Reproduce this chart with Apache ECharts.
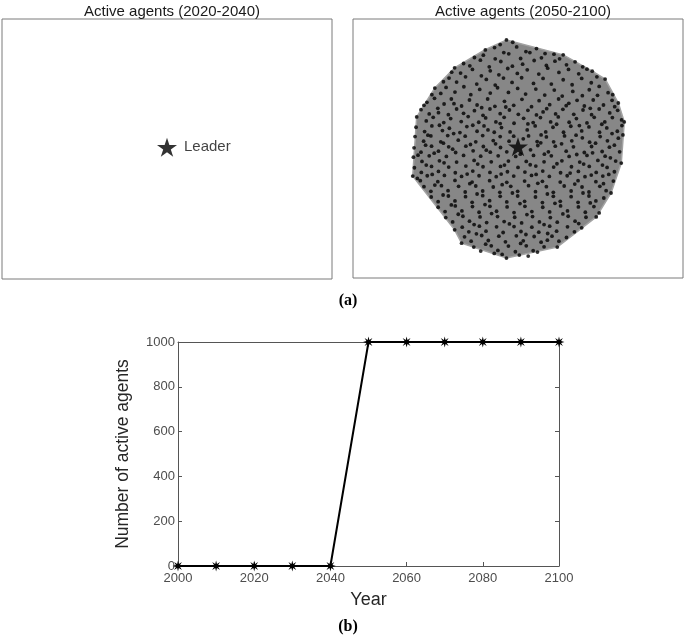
<!DOCTYPE html>
<html>
<head>
<meta charset="utf-8">
<script src="https://cdn.jsdelivr.net/npm/echarts@6/dist/echarts.min.js"></script>
<style>
  html, body { margin: 0; padding: 0; background: #fff; }
  #chart { width: 685px; height: 635px; }
</style>
</head>
<body>
<div id="chart"></div>
<script>
// leader position (field units, x 0-100, y 0-78)
const leader = [50, 39.5]

// outer agents that form the hull of the communication area
const hull = [
  [46.5,71.7],[63.7,67.2],[72.5,62.3],[76.4,59.9],[80.4,52.7],[82.2,47.0],[81.3,34.6],
  [78.2,25.6],[73.7,18.4],[61.9,9.3],[46.5,6.0],[32.9,10.5],[30.8,14.5],[18.1,30.7],
  [19.3,48.5],[24.8,57.2],[30.8,63.3],[39.9,68.7]
]

// active agents 2050-2100 (estimated positions)
const agents = [
  [46.5,71.7],[44.6,70.3],[48.4,71.0],
  [40.1,68.7],[42.9,69.4],[45.7,67.9],[49.6,69.6],[52.4,68.2],[55.6,69.1],[58.2,67.6],
  [36.8,66.4],[39.5,67.1],[43.1,66.0],[47.2,67.5],[50.8,66.1],[53.6,67.9],[57.1,66.3],[60.9,67.4],[63.7,67.2],
  [33.5,64.6],[35.4,63.9],[38.6,65.6],[41.3,63.6],[44.8,65.2],[48.3,63.8],[51.4,64.4],[54.9,65.5],[58.6,64.0],[61.2,65.3],[64.7,64.2],[67.3,65.1],
  [30.8,63.3],[32.6,61.7],[36.2,62.8],[38.9,60.9],[41.6,62.4],[44.2,61.2],[46.9,63.1],[49.8,61.6],[52.8,62.7],[56.3,61.4],[59.0,63.2],[62.4,61.9],[65.3,62.8],[68.4,61.5],[70.9,62.9],[72.5,62.3],
  [29.1,60.2],[31.4,59.0],[34.1,60.6],[37.5,58.4],[40.4,59.8],[43.1,58.1],[45.6,60.2],[48.2,58.9],[51.1,60.3],[54.7,58.6],[57.6,60.1],[60.1,58.4],[63.7,59.7],[66.4,58.2],[69.3,60.1],[72.2,58.8],[74.6,57.7],[76.4,59.9],
  [24.8,57.2],[26.6,55.6],[28.2,57.4],[30.9,56.0],[33.6,57.6],[35.7,55.2],[38.4,56.8],[41.6,55.7],[43.8,57.3],[47.1,55.9],[49.9,57.1],[52.3,55.4],[55.4,56.9],[58.1,55.1],[61.0,56.6],[63.4,54.8],[66.6,56.2],[69.5,54.9],[71.6,56.7],[74.1,55.0],[77.3,55.8],
  [22.4,52.9],[24.7,54.1],[27.6,52.4],[29.8,53.9],[32.9,51.8],[35.3,53.6],[37.6,52.1],[40.8,53.9],[43.0,51.7],[45.9,53.2],[48.7,52.0],[51.2,53.8],[54.1,51.6],[56.4,53.4],[59.6,52.2],[62.3,53.9],[64.6,51.9],[67.9,53.5],[70.1,51.8],[72.8,53.6],[75.9,52.1],[78.5,53.5],[80.4,52.7],
  [20.6,50.7],[23.1,49.4],[25.7,51.1],[28.9,49.2],[31.4,50.9],[33.5,49.6],[36.8,50.4],[39.4,49.0],[41.5,50.9],[44.6,49.5],[47.4,50.6],[50.1,49.3],[53.0,50.5],[55.6,49.1],[58.7,51.0],[61.4,49.4],[63.6,50.8],[66.9,49.3],[69.7,50.6],[72.3,49.2],[74.6,50.9],[77.8,49.7],[80.2,50.5],
  [19.3,48.5],[22.2,47.3],[24.3,48.4],[27.5,46.8],[29.6,48.0],[32.8,47.1],[34.9,48.6],[38.1,46.9],[40.2,48.2],[43.3,47.0],[45.8,48.4],[48.8,46.6],[51.7,48.1],[54.6,46.8],[56.8,48.3],[59.9,47.0],[62.2,48.5],[65.5,46.9],[67.7,48.0],[70.9,46.7],[73.1,48.4],[76.3,47.0],[78.6,48.3],[81.4,47.6],[82.2,47.0],
  [19.1,45.4],[21.7,44.1],[23.9,45.8],[27.1,44.4],[29.2,45.1],[32.4,43.8],[34.5,45.6],[37.6,44.2],[39.7,45.8],[42.8,43.9],[45.0,45.3],[47.6,44.0],[52.8,44.6],[55.2,45.8],[58.4,44.0],[60.6,45.4],[63.8,43.9],[66.0,45.7],[69.3,44.3],[71.5,45.5],[74.7,43.9],[76.9,45.2],[80.1,44.2],[81.5,45.9],
  [18.8,42.6],[21.4,41.2],[23.6,42.8],[26.6,41.0],[28.7,42.9],[31.9,41.5],[34.0,42.7],[37.2,41.0],[39.3,42.9],[42.5,41.4],[44.6,42.6],[47.3,41.2],[48.7,42.7],[51.6,41.9],[53.2,42.8],[55.8,41.1],[58.6,42.5],[60.8,41.0],[64.1,42.8],[66.3,41.3],[69.5,42.2],[71.7,40.9],[74.9,42.6],[77.1,41.3],[80.4,42.1],[81.8,43.1],
  [18.5,39.2],[20.6,37.9],[23.8,39.7],[25.9,38.2],[29.0,39.5],[31.1,37.8],[34.2,39.7],[36.4,38.3],[39.5,39.6],[41.6,37.9],[44.7,39.3],[46.6,38.0],[53.8,38.6],[56.0,39.9],[59.2,38.0],[61.3,39.7],[64.6,38.2],[66.8,39.5],[70.1,37.8],[72.3,39.6],[75.5,38.1],[77.7,39.4],[80.8,38.0],
  [18.3,36.4],[20.9,35.1],[23.1,36.8],[26.2,35.3],[28.3,36.6],[31.4,34.9],[33.5,36.9],[36.7,35.4],[38.7,36.7],[41.9,35.0],[44.0,36.8],[47.1,35.2],[49.3,36.6],[50.7,37.3],[52.5,35.1],[54.7,36.9],[57.9,35.0],[60.1,36.8],[63.3,35.3],[65.5,36.6],[68.7,34.9],[70.9,36.9],[74.2,35.4],[76.4,36.7],[79.6,35.2],[81.3,34.6],
  [18.6,33.2],[20.7,31.8],[23.8,33.6],[25.9,32.1],[29.0,33.4],[31.0,31.7],[34.2,33.7],[36.3,32.2],[39.4,33.5],[41.5,31.8],[44.7,33.6],[46.8,32.0],[50.0,33.3],[52.1,31.9],[55.4,33.7],[57.5,32.2],[60.8,33.4],[62.9,31.7],[66.2,33.5],[68.3,32.1],[71.6,33.6],[73.7,31.8],[77.0,33.3],[79.2,32.0],
  [18.1,30.7],[20.4,29.3],[22.5,30.8],[25.7,29.0],[27.7,30.9],[30.9,29.4],[32.9,30.6],[36.1,28.9],[38.2,30.8],[41.4,29.3],[43.4,30.5],[46.6,28.8],[48.7,30.7],[52.0,29.2],[54.1,30.9],[57.4,29.1],[59.5,30.6],[62.8,28.9],[64.9,30.8],[68.2,29.3],[70.3,30.5],[73.6,29.0],[75.7,30.7],[78.9,29.2],
  [21.5,27.5],[23.6,26.1],[26.8,27.8],[28.8,26.3],[32.0,27.6],[34.0,25.9],[37.2,27.7],[39.3,26.2],[42.5,27.4],[44.5,25.8],[47.8,27.6],[49.9,26.1],[53.2,27.8],[55.3,26.0],[58.6,27.5],[60.7,25.8],[64.0,27.7],[66.1,26.2],[69.4,27.4],[71.5,25.9],[74.8,27.6],[76.7,26.3],[78.2,25.6],
  [23.7,24.4],[25.8,23.0],[28.9,24.7],[30.9,23.2],[34.1,24.5],[36.1,22.8],[39.3,24.8],[41.4,23.3],[44.6,24.6],[46.6,22.9],[49.9,24.7],[52.0,23.1],[55.3,24.4],[57.4,22.7],[60.7,24.6],[62.8,23.1],[66.1,24.5],[68.2,22.8],[71.5,24.7],[73.6,23.2],[76.0,24.1],
  [25.8,21.3],[27.9,20.0],[31.0,21.7],[33.0,20.2],[36.2,21.5],[38.2,19.8],[41.5,21.6],[43.5,20.1],[46.7,21.4],[48.8,19.7],[52.1,21.6],[54.2,20.0],[57.5,21.3],[59.6,19.9],[62.9,21.7],[65.0,20.2],[68.3,21.4],[70.4,19.8],[73.0,21.5],[74.6,19.6],
  [28.1,18.2],[30.2,16.9],[33.3,18.6],[35.3,17.1],[38.5,18.4],[40.5,16.7],[43.8,18.5],[45.8,17.0],[49.0,18.3],[51.1,16.6],[54.4,18.5],[56.5,16.9],[59.8,18.2],[61.9,16.8],[65.2,18.6],[67.3,17.1],[70.6,18.3],[73.7,18.4],
  [30.8,14.5],[33.1,15.3],[35.1,13.9],[38.3,15.6],[40.3,14.1],[43.5,15.4],[45.5,13.7],[48.8,15.5],[50.9,14.0],[54.2,15.3],[56.3,13.8],[59.6,15.6],[61.7,14.1],[65.0,15.4],[67.1,13.9],[69.3,15.1],
  [33.8,12.4],[35.8,11.1],[39.0,12.8],[41.0,11.3],[44.2,12.6],[46.2,10.9],[49.5,12.7],[51.6,11.2],[54.9,12.5],[57.0,10.8],[60.3,12.6],[62.4,11.1],[64.7,12.2],
  [32.9,10.5],[36.6,9.3],[38.7,8.1],[41.9,9.7],[43.9,8.3],[47.1,9.6],[49.2,7.9],[52.5,9.7],[54.6,8.2],[57.9,9.4],[61.9,9.3],
  [42.8,7.4],[46.5,6.0],[50.4,6.9],[53.1,6.6],
  // extra agents filling gaps between the rows
  [62.6,66.0],[29.9,62.0],[69.6,63.6],[27.4,59.1],[73.9,60.6],[23.9,55.2],[78.7,55.2],
  [21.5,52.0],[25.9,49.8],[30.6,52.5],[39.0,51.3],[46.3,51.5],[57.6,50.0],[65.4,52.6],[71.9,51.1],[79.3,51.6],[26.2,46.0],
  [36.3,46.0],[44.6,46.5],[53.0,46.4],[61.7,46.3],[68.6,45.9],[75.4,46.3],[22.7,43.0],[30.5,43.5],[40.9,44.6],[57.0,43.1],
  [67.6,43.0],[78.5,43.5],[22.0,40.0],[27.4,40.6],[35.6,40.2],[43.2,40.4],[56.9,40.7],[63.2,40.4],[73.5,40.6],[79.2,40.0],
  [19.7,37.0],[24.6,37.6],[30.2,38.8],[40.4,38.5],[58.0,37.3],[67.8,37.2],[72.6,37.7],[78.0,36.2],[22.2,34.0],[27.6,34.7],
  [37.8,34.3],[45.9,34.0],[53.7,34.1],[61.8,34.4],[69.9,34.3],[75.6,34.0],[19.5,30.0],[24.0,31.2],[34.6,31.3],[44.9,31.3],
  [55.5,31.2],[65.8,31.6],[72.2,31.0],[77.5,31.2],[24.8,28.0],[35.4,28.4],[45.2,28.1],[56.0,28.5],[67.2,28.3],[75.9,28.4],
  [27.3,25.0],[37.6,25.3],[48.3,25.6],[58.9,25.3],[69.7,25.6],[29.8,22.0],[40.0,22.1],[50.6,22.4],[61.2,22.5],[71.9,22.6],
  [31.9,19.2],[42.0,19.4],[52.7,19.1],[63.6,19.3],[36.7,16.1],[47.4,16.3],[57.9,16.1],[68.4,16.4],[37.4,13.3],[52.4,13.1],
  [59.0,13.4],[40.2,10.2],[50.8,10.4],[58.9,11.4],[45.2,7.1],[55.9,7.8]
]

// number of active agents per year
const years = [2000, 2010, 2020, 2030, 2040, 2050, 2060, 2070, 2080, 2090, 2100]
const activeCount = [0, 0, 0, 0, 0, 1000, 1000, 1000, 1000, 1000, 1000]
const yearTicks = [2000, 2020, 2040, 2060, 2080, 2100]
const countTicks = [0, 200, 400, 600, 800, 1000]

const starPath = 'path://M0,-10L2.25,-3.09L9.51,-3.09L3.63,1.18L5.88,8.09L0,3.82L-5.88,8.09L-3.63,1.18L-9.51,-3.09L-2.25,-3.09Z'
const asteriskPath = 'path://M0,-5L0.8,-1.9L3.54,-3.54L1.9,-0.8L5,0L1.9,0.8L3.54,3.54L0.8,1.9L0,5L-0.8,1.9L-3.54,3.54L-1.9,0.8L-5,0L-1.9,-0.8L-3.54,-3.54L-0.8,-1.9Z'

const font = 'Liberation Sans, Arial, sans-serif'
const boxColor = '#7a7a7a'
const fieldAxis = (i, dim) => ({ gridIndex: i, type: 'value', min: 0, max: dim === 'x' ? 100 : 78, show: false })

const chart = echarts.init(document.getElementById('chart'), null, { renderer: 'canvas' })
chart.setOption({
  animation: false,
  title: [
    { text: 'Active agents (2020-2040)', left: 167, top: -1, textAlign: 'center', textStyle: { fontFamily: font, fontSize: 15, fontWeight: 'normal', color: '#1a1a1a' } },
    { text: 'Active agents (2050-2100)', left: 518, top: -1, textAlign: 'center', textStyle: { fontFamily: font, fontSize: 15, fontWeight: 'normal', color: '#1a1a1a' } },
    { text: '(a)', left: 343, top: 288, textAlign: 'center', textStyle: { fontFamily: 'Liberation Serif, Times New Roman, serif', fontSize: 16, fontWeight: 'bold', color: '#000' } },
    { text: '(b)', left: 343, top: 614, textAlign: 'center', textStyle: { fontFamily: 'Liberation Serif, Times New Roman, serif', fontSize: 16, fontWeight: 'bold', color: '#000' } }
  ],
  grid: [
    { left: 2, top: 19, width: 330, height: 260, show: true, borderColor: boxColor, borderWidth: 1, backgroundColor: 'transparent' },
    { left: 353, top: 19, width: 330, height: 259, show: true, borderColor: boxColor, borderWidth: 1, backgroundColor: 'transparent' },
    { left: 178, top: 342, width: 381, height: 224 }
  ],
  xAxis: [
    fieldAxis(0, 'x'),
    fieldAxis(1, 'x'),
    {
      gridIndex: 2, type: 'value', min: 2000, max: 2100, interval: 20,
      name: 'Year', nameLocation: 'middle', nameGap: 25,
      nameTextStyle: { fontFamily: font, fontSize: 18, color: '#262626' },
      axisLine: { lineStyle: { color: '#555', width: 1 } },
      axisTick: { inside: true, length: 4, lineStyle: { color: '#555' } },
      axisLabel: { fontFamily: font, fontSize: 13, color: '#4d4d4d', margin: 6, formatter: v => yearTicks.includes(v) ? String(v) : '' },
      splitLine: { show: false }
    },
    {
      gridIndex: 2, type: 'value', position: 'top', min: 2000, max: 2100, interval: 20,
      axisLine: { show: true, onZero: false, lineStyle: { color: '#555', width: 1 } },
      axisTick: { show: false }, axisLabel: { show: false }, splitLine: { show: false }
    }
  ],
  yAxis: [
    fieldAxis(0, 'y'),
    fieldAxis(1, 'y'),
    {
      gridIndex: 2, type: 'value', min: 0, max: 1000, interval: 200,
      name: 'Number of active agents', nameLocation: 'middle', nameGap: 46,
      nameTextStyle: { fontFamily: font, fontSize: 17.5, color: '#262626' },
      axisLine: { show: true, lineStyle: { color: '#555', width: 1 } },
      axisTick: { show: true, inside: true, length: 4, lineStyle: { color: '#555' } },
      axisLabel: { fontFamily: font, fontSize: 13, color: '#4d4d4d', margin: 3, formatter: v => countTicks.includes(v) ? String(v) : '' },
      splitLine: { show: false }
    },
    {
      gridIndex: 2, type: 'value', position: 'right', min: 0, max: 1000, interval: 200,
      axisLine: { show: true, onZero: false, lineStyle: { color: '#555', width: 1 } },
      axisTick: { show: true, inside: true, length: 4, lineStyle: { color: '#555' } },
      axisLabel: { show: false }, splitLine: { show: false }
    }
  ],
  series: [
    {
      type: 'scatter', xAxisIndex: 0, yAxisIndex: 0,
      data: [leader], symbol: starPath, symbolKeepAspect: true, symbolSize: 20,
      itemStyle: { color: '#000' },
      label: { show: true, position: 'right', distance: 7, formatter: 'Leader', fontFamily: font, fontSize: 15, color: '#111' }
    },
    {
      type: 'custom', xAxisIndex: 1, yAxisIndex: 1, data: [0], silent: true,
      renderItem: (params, api) => ({
        type: 'polygon',
        shape: { points: hull.map(p => api.coord(p)) },
        style: { fill: '#878787', stroke: '#a3a3a3', lineWidth: 1.5 }
      })
    },
    {
      type: 'scatter', xAxisIndex: 1, yAxisIndex: 1,
      data: agents, symbol: 'circle', symbolSize: 3.8,
      itemStyle: { color: '#000' }
    },
    {
      type: 'scatter', xAxisIndex: 1, yAxisIndex: 1,
      data: [leader], symbol: starPath, symbolKeepAspect: true, symbolSize: 20,
      itemStyle: { color: '#000' }
    },
    {
      type: 'line', xAxisIndex: 2, yAxisIndex: 2,
      data: years.map((y, i) => [y, activeCount[i]]),
      symbol: asteriskPath, symbolSize: 11, showSymbol: true,
      lineStyle: { color: '#000', width: 2 },
      itemStyle: { color: '#000' }
    }
  ]
})
</script>
</body>
</html>
